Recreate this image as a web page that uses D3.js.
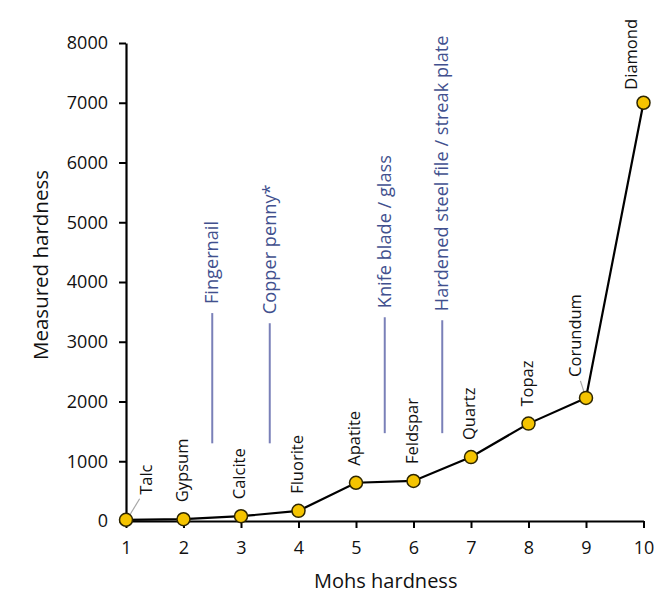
<!DOCTYPE html>
<html>
<head>
<meta charset="utf-8">
<script src="https://cdn.jsdelivr.net/npm/d3@7"></script>
<style>
  html, body { margin: 0; padding: 0; background: #ffffff; }
  svg { display: block; font-family: "Open Sans", "DejaVu Sans", sans-serif; }
</style>
</head>
<body>
<svg id="chart" width="661" height="598"></svg>
<script>
// ---- data ----
const minerals = ["Talc", "Gypsum", "Calcite", "Fluorite", "Apatite", "Feldspar", "Quartz", "Topaz", "Corundum", "Diamond"];
const mohs = [1, 2, 3, 4, 5, 6, 7, 8, 9, 10];
const measured = [20, 30, 80, 170, 640, 670, 1070, 1630, 2060, 7000];

const refNames = ["Fingernail", "Copper penny*", "Knife blade / glass", "Hardened steel file / streak plate"];
const refMohs = [2.5, 3.5, 5.5, 6.5];
const refLow = [1300, 1300, 1470, 1470];
const refHigh = [3480, 3310, 3410, 3360];

const xTicks = [1, 2, 3, 4, 5, 6, 7, 8, 9, 10];
const yTicks = [0, 1000, 2000, 3000, 4000, 5000, 6000, 7000, 8000];

// label layout tweaks (pixels): [dx, gap above point]
const labelNudge = {
  Talc: [22, 25], Corundum: [-9, 21], Diamond: [-11, 13]
};

// ---- layout ----
const svg = d3.select("#chart");
const mLeft = 126, mRight = 643.5, mTop = 43, mBottom = 521;

const x = d3.scaleLinear().domain([1, 10]).range([mLeft, mRight]);
const y = d3.scaleLinear().domain([0, 8000]).range([mBottom, mTop]);

// reference lines
const refG = svg.append("g");
refNames.forEach((name, i) => {
  refG.append("line")
    .attr("x1", x(refMohs[i])).attr("x2", x(refMohs[i]))
    .attr("y1", y(refLow[i])).attr("y2", y(refHigh[i]))
    .attr("stroke", "#7a80b8").attr("stroke-width", 2);
  refG.append("text")
    .attr("transform", `translate(${x(refMohs[i]) + 1},${y(refHigh[i]) - 9}) rotate(-90)`)
    .attr("text-anchor", "start")
    .attr("dominant-baseline", "middle")
    .attr("font-size", 18.2)
    .attr("fill", "#41508e")
    .text(name);
});

// axes
const yAxis = d3.axisLeft(y).tickValues(yTicks).tickSize(7).tickSizeOuter(0).tickPadding(11)
  .tickFormat(d3.format("d"));
const gy = svg.append("g").attr("transform", `translate(${mLeft},0)`).call(yAxis);
gy.select(".domain").attr("stroke", "#000").attr("stroke-width", 2.2);
gy.selectAll(".tick line").attr("stroke", "#000").attr("stroke-width", 2);
gy.selectAll(".tick text").attr("font-size", 18).attr("font-family", "Open Sans").attr("fill", "#111");

const xAxis = d3.axisBottom(x).tickValues(xTicks).tickSize(7).tickSizeOuter(0).tickPadding(13)
  .tickFormat(d3.format("d"));
const gx = svg.append("g").attr("transform", `translate(0,${mBottom})`).call(xAxis);
gx.select(".domain").attr("stroke", "#000").attr("stroke-width", 2.2);
gx.selectAll(".tick line").attr("stroke", "#000").attr("stroke-width", 2);
gx.selectAll(".tick text").attr("font-size", 18).attr("font-family", "Open Sans").attr("fill", "#111");

// axis titles
svg.append("text")
  .attr("x", (mLeft + mRight) / 2 + 1).attr("y", 588)
  .attr("text-anchor", "middle")
  .attr("font-size", 20).attr("fill", "#111")
  .text("Mohs hardness");
svg.append("text")
  .attr("transform", `translate(43,265) rotate(-90)`)
  .attr("text-anchor", "middle")
  .attr("dominant-baseline", "middle")
  .attr("font-size", 20.5).attr("fill", "#111")
  .text("Measured hardness");

// data
const pts = mohs.map((m, i) => ({ m, v: measured[i], name: minerals[i] }));

// leader lines
["Talc", "Corundum"].forEach(n => {
  const p = pts.find(d => d.name === n);
  const nd = labelNudge[n];
  svg.append("line")
    .attr("x1", x(p.m) + nd[0] * 0.15).attr("y1", y(p.v) - 4)
    .attr("x2", x(p.m) + nd[0] * 0.62).attr("y2", y(p.v) - nd[1] + 4)
    .attr("stroke", "#a8a8a8").attr("stroke-width", 1.2);
});

svg.append("path")
  .datum(pts)
  .attr("fill", "none")
  .attr("stroke", "#000")
  .attr("stroke-width", 2.2)
  .attr("d", d3.line().x(d => x(d.m)).y(d => y(d.v)));

svg.append("g").selectAll("circle")
  .data(pts).join("circle")
  .attr("cx", d => x(d.m)).attr("cy", d => y(d.v))
  .attr("r", 6.5)
  .attr("fill", "#f5c400")
  .attr("stroke", "#2e2600")
  .attr("stroke-width", 1.5);

svg.append("g").selectAll("text")
  .data(pts).join("text")
  .attr("transform", d => {
    const nd = labelNudge[d.name] || [0, 17];
    return `translate(${x(d.m) + nd[0]},${y(d.v) - nd[1]}) rotate(-90)`;
  })
  .attr("text-anchor", "start")
  .attr("dominant-baseline", "middle")
  .attr("font-size", 16.5)
  .attr("fill", "#111")
  .text(d => d.name);
</script>
</body>
</html>
